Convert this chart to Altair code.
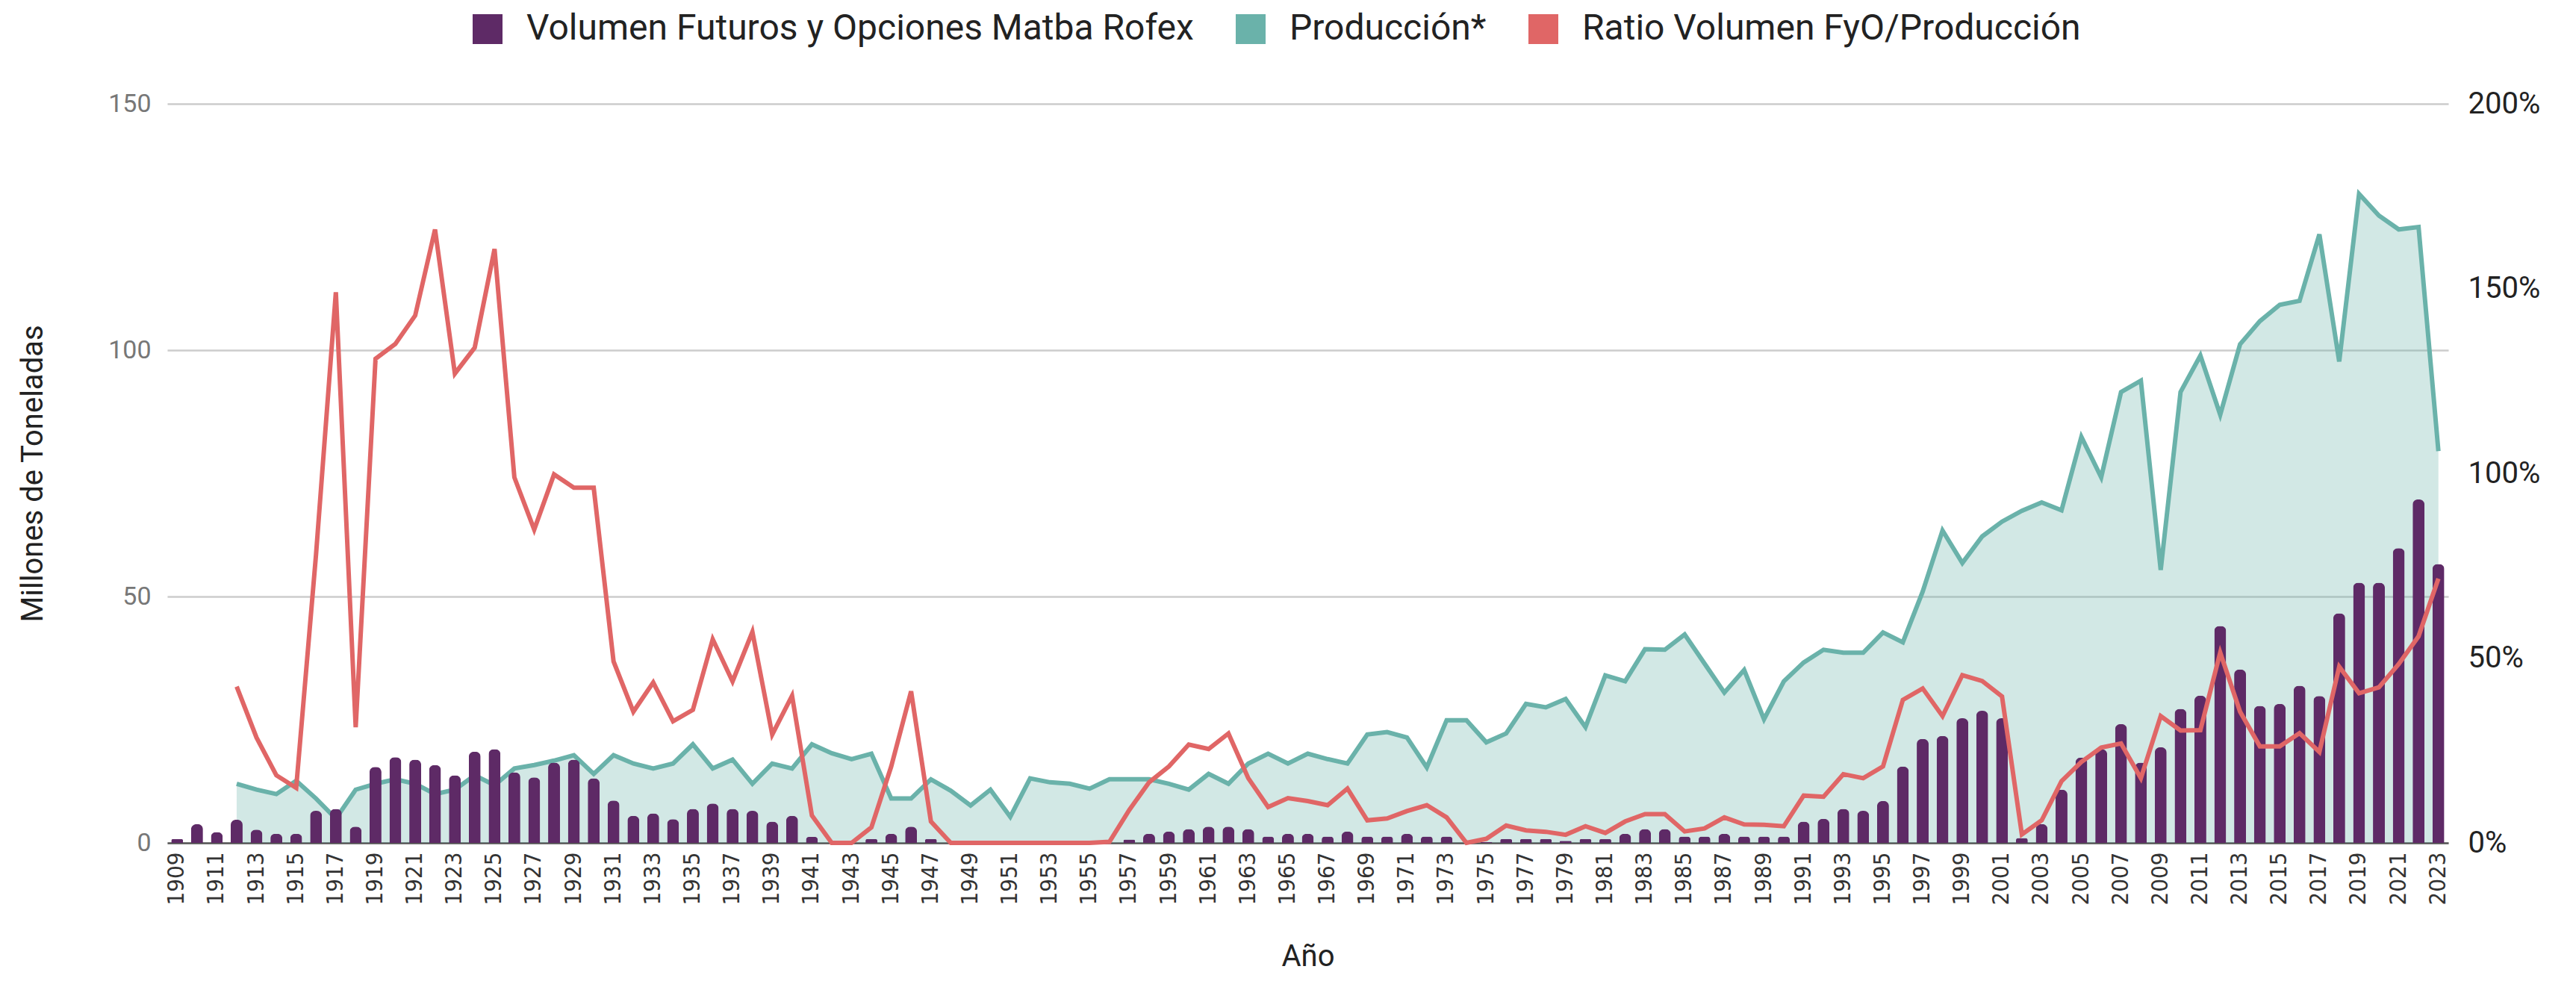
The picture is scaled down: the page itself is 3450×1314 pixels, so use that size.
import altair as alt
import pandas as pd

years = list(range(1909, 2024))

volumen = [
    0.8, 3.8, 2.2, 4.7, 2.7, 1.8, 1.8, 6.5, 6.9, 3.3,          # 1909-1918
    15.4, 17.4, 16.9, 15.8, 13.7, 18.5, 19.0, 14.3, 13.3, 16.3,  # 1919-1928
    16.9, 13.1, 8.6, 5.5, 6.0, 4.8, 6.9, 8.0, 6.9, 6.5,          # 1929-1938
    4.3, 5.5, 1.2, 0, 0, 0.8, 1.8, 3.3, 0.8, 0,                  # 1939-1948
    0, 0, 0, 0, 0, 0, 0, 0, 0.7, 1.8,                            # 1949-1958
    2.3, 2.8, 3.3, 3.3, 2.8, 1.3, 1.8, 1.8, 1.3, 2.3,            # 1959-1968
    1.3, 1.3, 1.8, 1.3, 1.3, 0, 0.2, 0.8, 0.8, 0.8,              # 1969-1978
    0.4, 0.8, 0.8, 1.8, 2.8, 2.8, 1.3, 1.3, 1.8, 1.3,            # 1979-1988
    1.3, 1.3, 4.3, 4.9, 6.9, 6.5, 8.5, 15.5, 21.1, 21.7,         # 1989-1998
    25.3, 26.8, 25.3, 1.0, 3.8, 10.8, 17.3, 19.0, 24.1, 16.3,    # 1999-2008
    19.4, 27.2, 29.9, 44.0, 35.2, 27.8, 28.2, 31.9, 29.8, 46.6,  # 2009-2018
    52.8, 52.8, 59.8, 69.7, 56.6,                                # 2019-2023
]

produccion = [
    None, None, None, 12.0, 10.8, 9.9, 12.6, 9.0, 4.9, 10.8,     # 1909-1918
    12.0, 12.9, 12.0, 9.9, 10.8, 13.7, 11.7, 15.1, 15.8, 16.7,   # 1919-1928
    17.8, 14.0, 17.8, 16.1, 15.1, 16.1, 20.0, 15.1, 16.9, 12.0,  # 1929-1938
    16.1, 15.1, 20.0, 18.2, 17.0, 18.1, 9.0, 9.0, 12.9, 10.6,    # 1939-1948
    7.6, 10.8, 5.3, 13.1, 12.3, 12.0, 11.0, 12.9, 12.9, 12.9,    # 1949-1958
    12.0, 10.8, 14.0, 12.0, 16.1, 18.1, 16.1, 18.1, 17.0, 16.1,  # 1959-1968
    22.0, 22.5, 21.4, 15.3, 24.9, 24.9, 20.4, 22.2, 28.2, 27.5,  # 1969-1978
    29.2, 23.5, 34.0, 32.8, 39.3, 39.2, 42.3, 36.4, 30.5, 35.1,  # 1979-1988
    25.1, 32.8, 36.6, 39.2, 38.6, 38.6, 42.7, 40.7, 51.0, 63.4,  # 1989-1998
    56.8, 62.2, 65.2, 67.4, 69.1, 67.5, 82.4, 74.2, 91.5, 93.8,  # 1999-2008
    55.4, 91.5, 98.9, 86.9, 101.2, 105.9, 109.2, 110.0, 123.5, 97.7,  # 2009-2018
    131.7, 127.3, 124.5, 125.0, 79.5,                            # 2019-2023
]

ratio = [
    None, None, None, 42.3, 28.5, 18.3, 14.9, 78.0, 149.0, 31.3,     # 1909-1918
    131.0, 135.0, 142.7, 166.0, 127.0, 134.0, 160.7, 98.9, 84.8, 99.7,  # 1919-1928
    96.1, 96.1, 49.1, 35.5, 43.4, 32.9, 36.0, 55.1, 43.7, 57.1,      # 1929-1938
    29.3, 39.8, 7.4, 0, 0, 4.2, 20.7, 41.0, 5.8, 0,                  # 1939-1948
    0, 0, 0, 0, 0, 0, 0, 0.3, 8.9, 16.4,                             # 1949-1958
    20.7, 26.6, 25.4, 29.6, 17.5, 9.7, 12.1, 11.3, 10.2, 14.7,       # 1959-1968
    6.1, 6.6, 8.6, 10.2, 6.9, 0, 1.1, 4.7, 3.4, 3.0,                 # 1969-1978
    2.2, 4.5, 2.7, 5.8, 7.8, 7.8, 3.1, 3.9, 6.9, 5.0,                # 1979-1988
    4.9, 4.5, 12.8, 12.5, 18.6, 17.5, 20.7, 38.7, 41.8, 34.3,        # 1989-1998
    45.4, 43.8, 39.6, 2.3, 6.1, 16.7, 21.9, 25.8, 26.9, 17.5,        # 1999-2008
    34.3, 30.4, 30.5, 51.5, 35.5, 26.1, 26.1, 29.7, 24.6, 47.7,      # 2009-2018
    40.5, 42.1, 48.4, 55.9, 71.5,                                    # 2019-2023
]

series_names = ["Volumen Futuros y Opciones Matba Rofex", "Producción*", "Ratio Volumen FyO/Producción"]
series_colors = ["#5e2a66", "#6ab2aa", "#e06666"]
tick_years = [y for y in years if y % 2 == 1]
left_ticks = [0, 50, 100, 150]
right_ticks = [0, 50, 100, 150, 200]

df = pd.DataFrame({"Año": years, "Volumen": volumen, "Produccion": produccion, "Ratio": ratio})

W, H = 3055, 990

x_axis = alt.Axis(
    values=tick_years, labelAngle=-90, labelAlign="right", labelBaseline="middle",
    labelFont="Liberation Sans Narrow, DejaVu Sans Condensed, Roboto", labelFontSize=31,
    labelColor="#333333", labelPadding=12, ticks=False,
    domain=True, domainColor="#555555", domainWidth=2.5,
    title="Año", titleFont="Roboto", titleFontSize=40, titleFontWeight="normal",
    titleColor="#222222", titleY=152, titleBaseline="middle",
)
x_scale = alt.Scale(paddingInner=0.4, paddingOuter=0.2)

y_left = alt.Axis(
    values=left_ticks, grid=True, gridColor="#cccccc", gridWidth=2.5,
    domain=False, ticks=False, labelFont="Roboto", labelFontSize=34, labelColor="#777777",
    labelPadding=22, title="Millones de Toneladas", titleFont="Roboto", titleFontSize=40,
    titleFontWeight="normal", titleColor="#222222", titleX=-180, titleY=H / 2,
    titleAngle=-90, titleAlign="center", titleBaseline="middle",
)
y_left_scale = alt.Scale(domain=[0, 150])

base = alt.Chart(df)

area = base.mark_area(
    color=series_colors[1], fillOpacity=0.3,
    line={"color": series_colors[1], "strokeWidth": 6},
).encode(
    x=alt.X("Año:O", scale=x_scale, axis=x_axis, bandPosition=0.5),
    y=alt.Y("Produccion:Q", scale=y_left_scale, axis=y_left),
)

bars = base.mark_bar(cornerRadiusTopLeft=7, cornerRadiusTopRight=7).encode(
    x=alt.X("Año:O", scale=x_scale, axis=x_axis),
    y=alt.Y("Volumen:Q", scale=y_left_scale, axis=y_left),
    color=alt.Color(
        "serie:N",
        scale=alt.Scale(domain=series_names, range=series_colors),
        legend=alt.Legend(
            title=None, orient="none", direction="horizontal", legendX=405, legendY=-124,
            labelFont="Roboto", labelFontSize=48, labelColor="#222222", labelLimit=2000,
            symbolType="square", symbolSize=1600, symbolStrokeWidth=0,
            labelOffset=28, columnPadding=52,
        ),
    ),
).transform_calculate(serie="'" + series_names[0] + "'")

left = alt.layer(area, bars)

line = base.mark_line(color=series_colors[2], strokeWidth=6).encode(
    x=alt.X("Año:O", scale=x_scale, axis=x_axis, bandPosition=0.5),
    y=alt.Y(
        "Ratio:Q", scale=alt.Scale(domain=[0, 200]),
        axis=alt.Axis(
            orient="right", values=right_ticks, labelExpr="datum.value + '%'", grid=False,
            domain=False, ticks=False, labelFont="Roboto", labelFontSize=40,
            labelColor="#222222", labelPadding=26, title=None,
        ),
    ),
)

chart = alt.layer(left, line).resolve_scale(y="independent").properties(
    width=W, height=H,
    autosize=alt.AutoSizeParams(type="none"),
    padding={"left": 216, "top": 131, "right": 150, "bottom": 177},
).configure_view(stroke=None)

chart.save("out.html", embed_options={"renderer": "svg", "actions": False})
